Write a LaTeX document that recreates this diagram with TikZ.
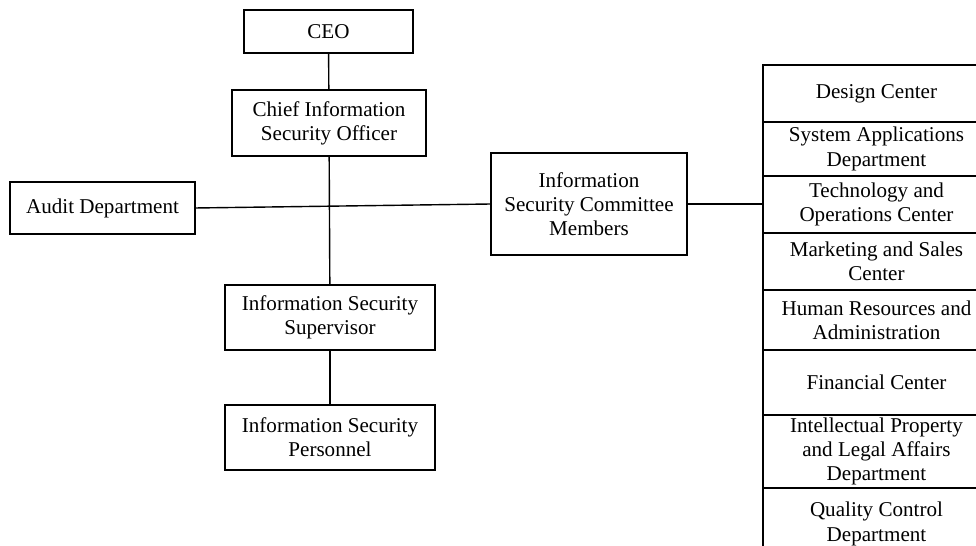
\documentclass[tikz,border=0pt]{standalone}
\usepackage{fontspec}
\setmainfont{Liberation Serif}
\usetikzlibrary{positioning}

\begin{document}
\begin{tikzpicture}[x=0.02cm,y=-0.02cm,
    font=\fontsize{12}{13.8}\selectfont,
    box/.style={draw, line width=0.8pt, align=center, inner sep=0pt, outer sep=0pt},
    dept/.style={box, minimum width=4.54cm},
    link/.style={line width=0.8pt}]
\useasboundingbox (0,0) rectangle (976,546);
\clip (0,0) rectangle (976,546);
% left part of the chart
\node[box, minimum width=3.38cm, minimum height=0.86cm] (ceo) at (328.5,31.5) {CEO};
\node[box, minimum width=3.88cm, minimum height=1.32cm] (ciso) at (329,123) {Chief Information\\Security Officer};
\node[box, minimum width=3.70cm, minimum height=1.04cm] (audit) at (102.5,208) {Audit Department};
\node[box, minimum width=3.92cm, minimum height=2.04cm] (committee) at (589,204) {Information\\Security Committee\\Members};
\node[box, minimum width=4.20cm, minimum height=1.30cm] (super) at (330,317.5) {Information Security\\Supervisor};
\node[box, minimum width=4.20cm, minimum height=1.30cm] (staff) at (330,437.5) {Information Security\\Personnel};
% departments column
\node[dept, minimum height=1.14cm, anchor=north west] (d1) at (763,65) {Design Center};
\node[dept, minimum height=1.08cm, below=0pt of d1] (d2) {System Applications\\Department};
\node[dept, minimum height=1.14cm, below=0pt of d2] (d3) {Technology and\\Operations Center};
\node[dept, minimum height=1.14cm, below=0pt of d3] (d4) {Marketing and Sales\\Center};
\node[dept, minimum height=1.20cm, below=0pt of d4] (d5) {Human Resources and\\Administration};
\node[dept, minimum height=1.30cm, below=0pt of d5] (d6) {Financial Center};
\node[dept, minimum height=1.46cm, below=0pt of d6] (d7) {Intellectual Property\\and Legal Affairs\\Department};
\node[dept, minimum height=1.44cm, below=0pt of d7] (d8) {Quality Control\\Department};
% connectors
\draw[link] (ceo) -- (ciso);
\draw[link] (ciso) -- (super);
\draw[link] (super) -- (staff);
\draw[link] (audit.east) -- (committee.west);
\draw[link] (committee.east) -- (committee.east -| d3.west);
\end{tikzpicture}
\end{document}
